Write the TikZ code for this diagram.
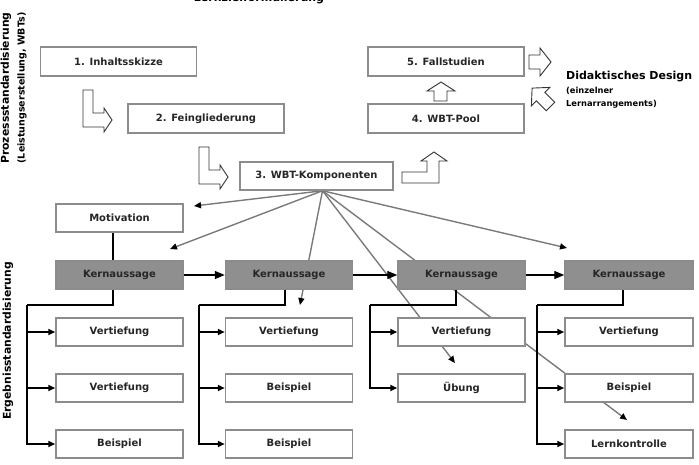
\documentclass[tikz,border=0pt]{standalone}
\usepackage{fontspec}
\setmainfont{DejaVu Sans}
\usetikzlibrary{arrows.meta,calc,backgrounds}
\definecolor{boxline}{gray}{0.55}
\definecolor{kfill}{gray}{0.56}
\definecolor{fanline}{gray}{0.48}
\tikzset{
  box/.style={draw=boxline, line width=1.5pt, fill=white, minimum width=127pt,
    minimum height=28pt, inner sep=0pt, text=black!85,
    font=\fontsize{10}{12}\selectfont\bfseries},
  kbox/.style={box, fill=kfill},
  wide/.style={minimum width=156pt, minimum height=29pt},
  tree/.style={line width=1.8pt, black},
  treearr/.style={tree, -{Triangle[length=7pt,width=6pt]}},
  karr/.style={line width=1.3pt, black, -{Triangle[length=10pt,width=8pt]}},
  fan/.style={fanline, line width=1.4pt, -{Triangle[length=7pt,width=6pt,color=black]}},
  blockarrow/.style={draw=black!80, line width=0.9pt, fill=white, line join=miter},
  sidelabel/.style={rotate=90, font=\fontsize{10.8}{12}\selectfont\bfseries, inner sep=0pt},
}
\begin{document}
\begin{tikzpicture}[x=1pt,y=-1pt]
\useasboundingbox (0,0) rectangle (699,464);

% heading cut off at the top edge
\node[anchor=base, inner sep=0pt, font=\fontsize{11}{13}\selectfont\bfseries] (head) at (259,1.2) {Lernzielformulierung};

% side labels
\node[sidelabel] (pl1) at (6,88) {Prozessstandardisierung};
\node[sidelabel, font=\fontsize{9.5}{11}\selectfont\bfseries] (pl2) at (22,88) {(Leistungserstellung, WBTs)};
\node[sidelabel] (el) at (8,341) {Ergebnisstandardisierung};

% process boxes
\node[box, wide] (b1) at (118.5,61.5) {1. Inhaltsskizze};
\node[box, wide] (b2) at (206,118.5) {2. Feingliederung};
\node[box, minimum width=153pt] (b3) at (316.5,176) {3. WBT-Komponenten};
\node[box, wide] (b5) at (446,61.5) {5. Fallstudien};
\node[box, wide] (b4) at (446,118.5) {4. WBT-Pool};

% didactic design
\node[anchor=base west, inner sep=0pt, font=\fontsize{11}{13}\selectfont\bfseries] (dd) at (566,79) {Didaktisches Design};
\node[anchor=base west, inner sep=0pt, font=\fontsize{8.3}{10}\selectfont\bfseries] (dd2) at (566,93) {(einzelner};
\node[anchor=base west, inner sep=0pt, font=\fontsize{8.3}{10}\selectfont\bfseries] (dd3) at (566,106) {Lernarrangements)};

% block arrows
\draw[blockarrow] (83,90) -- (93,90) -- (93,113) -- (104,113) -- (104,108) -- (112,120) -- (104,132) -- (104,127) -- (83,127) -- cycle;
\draw[blockarrow] (199,147) -- (209,147) -- (209,170) -- (220,170) -- (220,165) -- (228,177) -- (220,189) -- (220,184) -- (199,184) -- cycle;
\draw[blockarrow] (402,172) -- (427,172) -- (427,161) -- (421,161) -- (434,152) -- (447,161) -- (439,161) -- (439,183) -- (402,183) -- cycle;
\draw[blockarrow] (434,101) -- (434,91) -- (427,91) -- (441,82) -- (455,91) -- (447,91) -- (447,101) -- cycle;
\draw[blockarrow] (529,55) -- (540,55) -- (540,48) -- (551,62) -- (540,76) -- (540,69) -- (529,69) -- cycle;
\draw[blockarrow, shift={(542,98)}, rotate=135] (-12,-6) -- (2,-6) -- (2,-13) -- (14,0) -- (2,13) -- (2,6) -- (-12,6) -- cycle;

% result level
\node[box] (mot) at (119.5,218) {Motivation};
\node[kbox] (k1) at (119.5,275) {Kernaussage};
\node[kbox] (k2) at (289,275) {Kernaussage};
\node[kbox] (k3) at (461.5,275) {Kernaussage};
\node[kbox, minimum width=128pt] (k4) at (629,275) {Kernaussage};

\node[box] (s11) at (119.5,332) {Vertiefung};
\node[box] (s12) at (119.5,388) {Vertiefung};
\node[box] (s13) at (119.5,444) {Beispiel};
\node[box] (s21) at (289,332) {Vertiefung};
\node[box] (s22) at (289,388) {Beispiel};
\node[box] (s23) at (289,444) {Beispiel};
\node[box] (s31) at (461.5,332) {Vertiefung};
\node[box] (s32) at (461.5,388) {Übung};
\node[box, minimum width=128pt] (s41) at (629,332) {Vertiefung};
\node[box, minimum width=128pt] (s42) at (629,388) {Beispiel};
\node[box, minimum width=128pt] (s43) at (629,444) {Lernkontrolle};

% tree coordinates
\coordinate (j1) at (113,305);  \coordinate (c1) at (27,305);
\coordinate (j2) at (285,305);  \coordinate (c2) at (199,305);
\coordinate (j3) at (456,305);  \coordinate (c3) at (370,305);
\coordinate (j4) at (623,305);  \coordinate (c4) at (537,305);

\draw[tree, line width=1.5pt] (mot.south -| j1) -- (k1.north -| j1);

\draw[tree] (k1.south -| j1) |- (c1);
\draw[treearr] (c1) |- (s13.west);
\draw[treearr] (c1 |- s11.west) -- (s11.west);
\draw[treearr] (c1 |- s12.west) -- (s12.west);

\draw[tree] (k2.south -| j2) |- (c2);
\draw[treearr] (c2) |- (s23.west);
\draw[treearr] (c2 |- s21.west) -- (s21.west);
\draw[treearr] (c2 |- s22.west) -- (s22.west);

\draw[tree] (k3.south -| j3) |- (c3);
\draw[treearr] (c3) |- (s32.west);
\draw[treearr] (c3 |- s31.west) -- (s31.west);

\draw[tree] (k4.south -| j4) |- (c4);
\draw[treearr] (c4) |- (s43.west);
\draw[treearr] (c4 |- s41.west) -- (s41.west);
\draw[treearr] (c4 |- s42.west) -- (s42.west);

\draw[karr] (k1) -- (k2);
\draw[karr] (k2) -- (k3);
\draw[karr] (k3) -- (k4);

% fan from WBT-Komponenten
\coordinate (e1) at (194,206);
\coordinate (e2) at (170,249);
\coordinate (e3) at (300,305);
\coordinate (e4) at (455,363);
\coordinate (e5) at (627,420);
\coordinate (e6) at (567,248);
\begin{pgfonlayer}{background}
\foreach \e in {e1,e2,e3,e4,e5,e6}
  \draw[fan] ([xshift=6pt]b3.south) -- (\e);
\end{pgfonlayer}
\end{tikzpicture}
\end{document}
